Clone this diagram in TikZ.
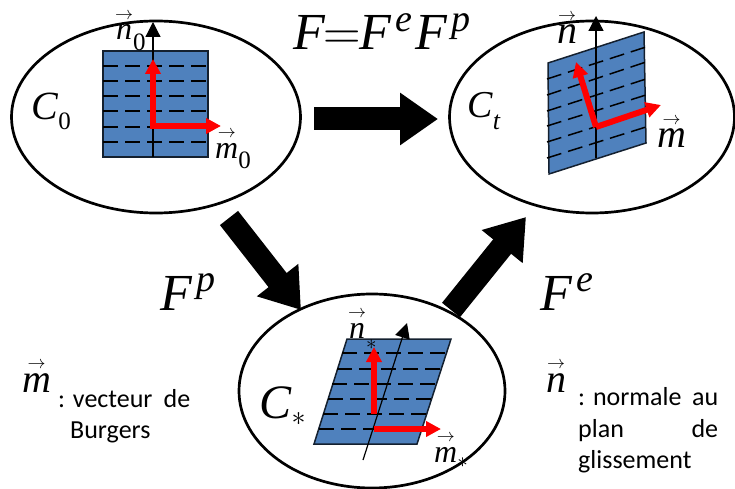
\documentclass[tikz,border=0pt]{standalone}
\usepackage{fix-cm}
\usepackage{amsmath}
\usepackage{fontspec}
\setmainfont{Liberation Serif}
\newfontfamily\notefont{Carlito}
\usetikzlibrary{shapes.geometric,arrows.meta}
\DeclareMathSizes{32}{32}{18}{10}
\DeclareMathSizes{40}{40}{18}{10}
\DeclareMathSizes{52}{52}{38}{24}
\definecolor{planblue}{HTML}{4F81BD}
\definecolor{planedge}{HTML}{14202F}
% letter with its arrow, then a subscript lowered by #4
\newcommand{\veclab}[4]{\fontsize{#1}{#1}\selectfont$\overset{\rightarrow}{\mathit{#2}}$\raisebox{#4}{\fontsize{25}{25}\selectfont #3}}
\newcommand{\conf}[4]{\fontsize{#1}{#1}\selectfont\textit{C}\raisebox{#4}{\fontsize{#3}{#3}\selectfont #2}}
\newcommand{\smallstar}{\fontsize{21}{21}\selectfont$*$}
\tikzset{
  config/.style = {ellipse, draw, line width=2.7pt, inner sep=0pt},
  plan/.style   = {draw=planedge, line width=1.5pt, fill=planblue},
  slip/.style   = {dash pattern=on 15pt off 7pt, line width=1.5pt},
  normal/.style = {-{Triangle[length=15pt,width=15pt]}, line width=1.2pt},
  redvec/.style = {-{Triangle[length=15pt,width=15pt]}, line width=6pt, red},
  bigarrow/.style = {-{Triangle[length=38pt,width=50pt]}, line width=23pt},
  lab/.style    = {anchor=base west, inner sep=0pt},
  biglab/.style = {anchor=base west, inner sep=0pt, font=\fontsize{52}{52}\selectfont},
  note/.style   = {anchor=base west, inner sep=0pt, font=\notefont\fontsize{26}{26}\selectfont},
}

\begin{document}
\begin{tikzpicture}[x=1pt,y=-1pt]
  \useasboundingbox (0,0) rectangle (735,489);

  % initial configuration
  \node[config, minimum width=289pt, minimum height=192pt] (c0) at (156,117) {};
  \draw[plan] (103,51) rectangle (208,157);
  \foreach \y in {66,81,96,111,127,142}
    \draw[slip] (103,\y) -- (208,\y);
  \coordinate (n0foot) at (153,157);
  \coordinate (n0tip) at (153,22);
  \coordinate (o0) at (153,126);
  \coordinate (r0n) at (153,59);
  \coordinate (r0m) at (221,126);
  \draw[normal] (n0foot) -- (n0tip);
  \draw[redvec] (o0) -- (r0n);
  \draw[redvec] ([xshift=-3pt]o0) -- (r0m);

  % current configuration
  \node[config, minimum width=285pt, minimum height=192pt] (ct) at (592,117) {};
  \draw[plan] (548,63) -- (644,32) -- (646,143) -- (549,174) -- cycle;
  \foreach \a/\b in {79/47,95/62,111/79,126/95,142/111,158/127}
    \draw[slip] (547,\a) -- (646,\b);
  \coordinate (ntfoot) at (596,158);
  \coordinate (nttip) at (596,16);
  \coordinate (ot) at (596,127);
  \coordinate (rtn) at (576,62);
  \coordinate (rtm) at (661,105);
  \draw[normal] (ntfoot) -- (nttip);
  \draw[redvec] (ot) -- (rtn);
  \draw[redvec] (ot) -- (rtm);

  % relaxed configuration
  \node[config, minimum width=266pt, minimum height=194pt] (cs) at (372,391) {};
  \draw[plan] (347,339) -- (451,339) -- (417,444) -- (314,444) -- cycle;
  \foreach \y/\l/\r in {353/342/446,369/337/441,384/332/436,399/328/431,414/323/426,429/319/422}
    \draw[slip] (\l,\y) -- (\r,\y);
  \coordinate (nsfoot) at (363,460);
  \coordinate (nstip) at (407,323);
  \coordinate (osn) at (374,414);
  \coordinate (rsn) at (374,347);
  \coordinate (osm) at (374,429);
  \coordinate (rsm) at (441,429);
  \draw[normal] (nsfoot) -- (nstip);
  \draw[redvec] (osn) -- (rsn);
  \draw[redvec] (osm) -- (rsm);

  % transformations
  \coordinate (a1) at (314,119);
  \coordinate (b1) at (438,119);
  \coordinate (a2) at (229,218);
  \coordinate (b2) at (301,310);
  \coordinate (a3) at (451,310);
  \coordinate (b3) at (526,217);
  \draw[bigarrow] (a1) -- (b1);
  \draw[bigarrow] (a2) -- (b2);
  \draw[bigarrow] (a3) -- (b3);

  % labels
  \node[biglab] (ftot) at (293,50) {$\mathit{F}\mkern-.5mu{=}\mkern-.5mu\mathit{F}^{\mkern2mu\mathit{e}}\mkern1mu\mathit{F}^{\mkern2mu\mathit{p}}$};
  \node[biglab] (fp) at (160,310) {$\mathit{F}^{\mkern2mu\mathit{p}}$};
  \node[biglab] (fe) at (540,310) {$\mathit{F}^{\mkern2mu\mathit{e}}$};
  \node[lab] (lc0) at (31,120) {\conf{40}{0}{25}{-10pt}};
  \node[lab] (lct) at (467,118) {\conf{38}{\textit{t}}{26}{-12pt}};
  \node[lab] (lcs) at (259,418) {\conf{48}{$*$}{28}{-7pt}};
  \node[lab] (ln0) at (115,40) {\veclab{32}{n}{0}{-11pt}};
  \node[lab] (lm0) at (215,158) {\veclab{32}{m}{0}{-10pt}};
  \node[lab] (lnt) at (557,44) {\veclab{40}{n}{}{0pt}};
  \node[lab] (lmt) at (657,148) {\veclab{40}{m}{}{0pt}};
  \node[lab] (lns) at (348,338) {\veclab{32}{n}{\smallstar}{-11pt}};
  \node[lab] (lms) at (434,462) {\veclab{32}{m}{\smallstar}{-5pt}};
  \node[lab] (lm) at (22,392) {\veclab{40}{m}{}{0pt}};
  \node[lab] (ln) at (546,392) {\veclab{40}{n}{}{0pt}};
  \node[note] (nm1) at (58,407) {\makebox[132pt][s]{: vecteur\hfill de}};
  \node[note] (nm2) at (70,438) {Burgers};
  \node[note] (nn1) at (578,405) {\makebox[140pt][s]{: normale\hfill au}};
  \node[note] (nn2) at (578,437) {\makebox[140pt][s]{plan\hfill de}};
  \node[note] (nn3) at (578,468) {glissement};

\end{tikzpicture}
\end{document}
